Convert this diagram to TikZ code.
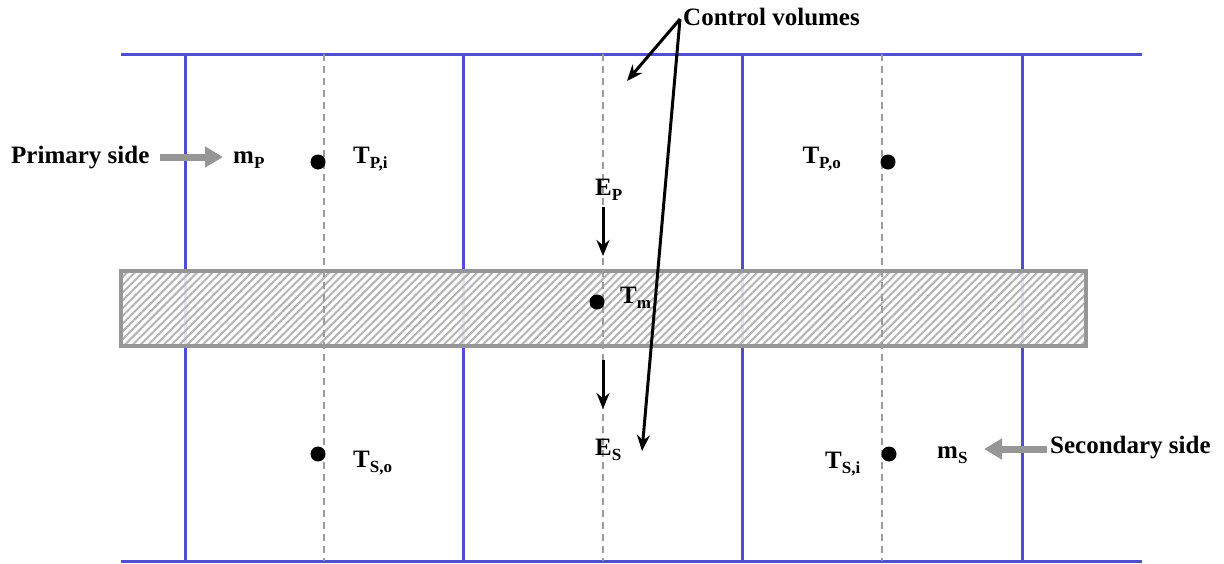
\documentclass[tikz,border=0pt]{standalone}
\usepackage{fontspec}
\setmainfont{Liberation Serif}
\usetikzlibrary{arrows.meta,patterns.meta}
\definecolor{lineblue}{RGB}{78,78,206}
\definecolor{arrgray}{RGB}{150,150,150}
\definecolor{dashgray}{RGB}{155,155,155}
\definecolor{hatchgray}{RGB}{180,180,180}
\newcommand\mysub[1]{\raisebox{-5pt}{\fontsize{17}{20}\selectfont\bfseries #1}}
\begin{document}
\begin{tikzpicture}[x=1pt,y=-1pt,
  lbl/.style={font=\fontsize{25}{30}\selectfont\bfseries, inner sep=0pt, anchor=base west},
  blueln/.style={draw=lineblue, line width=3pt},
  dashln/.style={draw=dashgray, line width=1.8pt, dash pattern=on 7pt off 5pt},
  dot/.style={circle, fill=black, inner sep=0pt, minimum size=15pt},
  bigarrow/.style={draw=arrgray, line width=7pt, -{Triangle[length=18pt,width=20pt]}},
  blackarrow/.style={draw=black, line width=3pt, -{Stealth[length=16pt,width=13pt]}}
]
\useasboundingbox (0,0) rectangle (1224,563);
\fill[white] (0,0) rectangle (1224,563);
% blue frame
\foreach \x in {185,463,742,1022} \draw[blueln] (\x,54) -- (\x,561);
\draw[blueln] (121,54) -- (1142,54);
\draw[blueln] (121,561) -- (1142,561);
% wall (hatched)
\fill[white, fill opacity=0.85] (121,271) rectangle (1086,346);
\fill[pattern={Lines[angle=45,distance=5.5pt,line width=2pt]}, pattern color=hatchgray] (121,271) rectangle (1086,346);
\draw[arrgray, line width=3.2pt] (121,271) rectangle (1086,346);
% dashed centre lines
\foreach \x in {324,603,882} \draw[dashln] (\x,54) -- (\x,561);
% dots
\node[dot] (dpi) at (318,162) {};
\node[dot] (dpo) at (888,162) {};
\node[dot] (dm)  at (597,302) {};
\node[dot] (dso) at (318,454) {};
\node[dot] (dsi) at (889,454) {};
% labels
\node[lbl] (prim) at (11,163) {Primary side};
\node[lbl] (mp) at (233,163) {m\mysub{P}};
\node[lbl] (tpi) at (353,163) {T\mysub{P,i}};
\node[lbl, anchor=base east] (tpo) at (841,163) {T\mysub{P,o}};
\node[lbl] (ep) at (595,195) {E\mysub{P}};
\node[lbl] (tm) at (620,303) {T\mysub{m}};
\node[lbl] (es) at (595,455) {E\mysub{S}};
\node[lbl] (tso) at (353,467) {T\mysub{S,o}};
\node[lbl] (tsi) at (825,468) {T\mysub{S,i}};
\node[lbl] (ms) at (937,458) {m\mysub{S}};
\node[lbl] (sec) at (1050,453) {Secondary side};
\node[lbl] (cv) at (683,25) {Control volumes};
% grey flow arrows
\coordinate (pa) at (160,157);
\coordinate (pb) at (223,157);
\coordinate (sa) at (1047,449);
\coordinate (sb) at (984,449);
\draw[bigarrow] (pa) -- (pb);
\draw[bigarrow] (sa) -- (sb);
% heat flow arrows
\coordinate (e1a) at (603,207);
\coordinate (e1b) at (603,256);
\coordinate (e2a) at (603,360);
\coordinate (e2b) at (603,409);
\draw[blackarrow] (e1a) -- (e1b);
\draw[blackarrow] (e2a) -- (e2b);
% control volume pointers
\coordinate (apex) at (680,19);
\coordinate (cv1) at (627,81);
\coordinate (cv2) at (642,451);
\draw[blackarrow] (apex) -- (cv1);
\draw[blackarrow] (apex) -- (cv2);
\end{tikzpicture}
\end{document}
